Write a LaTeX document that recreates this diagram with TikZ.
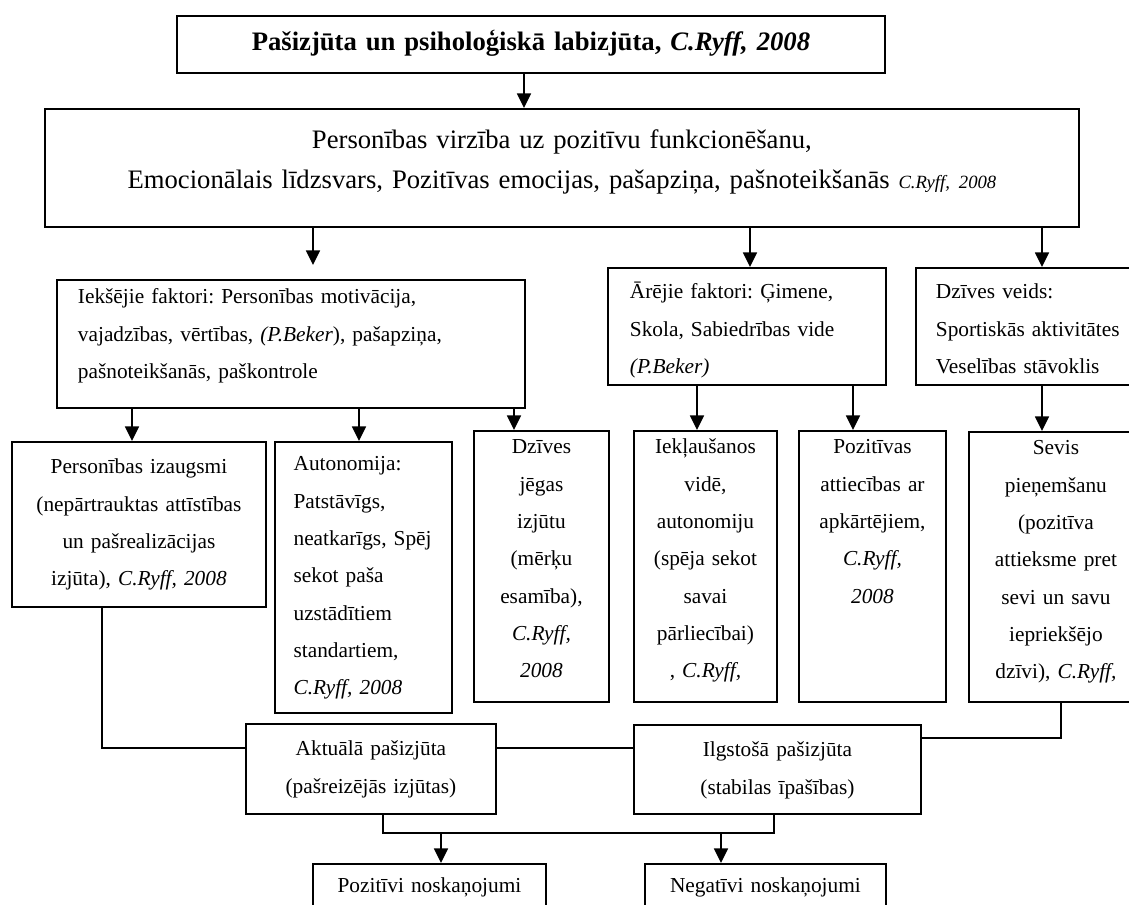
\documentclass[tikz,border=0pt]{standalone}
\usepackage{fontspec}
\setmainfont{Liberation Serif}
\usetikzlibrary{arrows.meta}
\frenchspacing

\begin{document}
\begin{tikzpicture}[x=0.75pt,y=-0.75pt,
    cell/.style={draw, line width=1.4pt, anchor=north west, inner ysep=0pt, align=center, font=\fontsize{16}{28}\selectfont},
    arr/.style={-{Triangle[length=11pt,width=10.5pt]}, line width=1.2pt},
    link/.style={line width=1.2pt}]
    \useasboundingbox (0,0) rectangle (1129,905);
    \clip (0,0) rectangle (1129,905);

    \node[cell, text width=531pt, inner xsep=0pt, text height=26.25pt, text depth=16.5pt, font=\fontsize{20}{24}\selectfont\bfseries] (title) at (176,15) {Pašizjūta un psiholoģiskā labizjūta, \textit{C.Ryff, 2008}};
    \node[cell, text width=775.5pt, inner xsep=0pt, text height=30pt, text depth=58.5pt, font=\fontsize{20}{30}\selectfont] (big) at (44,108) {Personības virzība uz pozitīvu funkcionēšanu,\\ Emocionālais līdzsvars, Pozitīvas emocijas, pašapziņa, pašnoteikšanās {\fontsize{14}{16}\selectfont\itshape C.Ryff, 2008}};

    \node[cell, align=left, text width=319.5pt, inner xsep=15.75pt, text height=18pt, text depth=78pt] (inner) at (56,279) {Iekšējie faktori: Personības motivācija,\\ vajadzības, vērtības, \textit{(P.Beker}), pašapziņa,\\ pašnoteikšanās, paškontrole};
    \node[cell, align=left, text width=175.5pt, inner xsep=16.5pt, text height=23.25pt, text depth=64.5pt] (outer) at (607,267) {Ārējie faktori: Ģimene,\\ Skola, Sabiedrības vide\\ \textit{(P.Beker)}};
    \node[cell, align=left, text width=141pt, inner xsep=15pt, text height=23.25pt, text depth=64.5pt] (life) at (915,267) {Dzīves veids:\\ Sportiskās aktivitātes\\ Veselības stāvoklis};

    \node[cell, text width=178.5pt, inner xsep=6pt, text height=24pt, text depth=99.75pt] (growth) at (11,441) {Personības izaugsmi\\ (nepārtrauktas attīstības\\ un pašrealizācijas\\ izjūta), \textit{C.Ryff, 2008}};
    \node[cell, align=left, text width=104.75pt, inner xsep=14pt, text height=21.75pt, text depth=181.5pt] (auton) at (274,441) {Autonomija:\\ Patstāvīgs,\\ neatkarīgs, Spēj\\ sekot paša\\ uzstādītiem\\ standartiem,\\ \textit{C.Ryff, 2008}};
    \node[cell, text width=95.25pt, inner xsep=3pt, text height=17.25pt, text depth=186pt] (meaning) at (473,430) {Dzīves\\ jēgas\\ izjūtu\\ (mērķu\\ esamība),\\ \textit{C.Ryff,}\\ \textit{2008}};
    \node[cell, text width=101.25pt, inner xsep=3pt, text height=17.25pt, text depth=186pt] (inclusion) at (633,430) {Iekļaušanos\\ vidē,\\ autonomiju\\ (spēja sekot\\ savai\\ pārliecībai)\\ , \textit{C.Ryff,}};
    \node[cell, text width=104.25pt, inner xsep=3pt, text height=17.25pt, text depth=186pt] (relations) at (798,430) {Pozitīvas\\ attiecības ar\\ apkārtējiem,\\ \textit{C.Ryff,}\\ \textit{2008}};
    \node[cell, text width=124.5pt, inner xsep=3pt, text height=17.25pt, text depth=185.25pt] (accept) at (968,431) {Sevis\\ pieņemšanu\\ (pozitīva\\ attieksme pret\\ sevi un savu\\ iepriekšējo\\ dzīvi), \textit{C.Ryff,}};

    \node[cell, text width=181.5pt, inner xsep=3pt, text height=24pt, text depth=43.5pt] (actual) at (245,723) {Aktuālā pašizjūta\\ (pašreizējās izjūtas)};
    \node[cell, text width=209.25pt, inner xsep=3pt, text height=24pt, text depth=42.75pt] (lasting) at (633,724) {Ilgstošā pašizjūta\\ (stabilas īpašības)};
    \node[cell, text width=168.75pt, inner xsep=3pt, text height=21.75pt, text depth=30pt] (pos) at (312,863) {Pozitīvi noskaņojumi};
    \node[cell, text width=174.75pt, inner xsep=3pt, text height=21.75pt, text depth=30pt] (neg) at (644,863) {Negatīvi noskaņojumi};

    \draw[arr] (title.south -| 524,0) -- (big.north -| 524,0);
    \draw[arr] (big.south -| 313,0) -- (313,265);
    \draw[arr] (big.south -| 750,0) -- (outer.north -| 750,0);
    \draw[arr] (big.south -| 1042,0) -- (life.north -| 1042,0);

    \draw[arr] (inner.south -| 132,0) -- (growth.north -| 132,0);
    \draw[arr] (inner.south -| 359,0) -- (auton.north -| 359,0);
    \draw[arr] (inner.south -| 514,0) -- (meaning.north -| 514,0);
    \draw[arr] (outer.south -| 697,0) -- (inclusion.north -| 697,0);
    \draw[arr] (outer.south -| 853,0) -- (relations.north -| 853,0);
    \draw[arr] (life.south -| 1042,0) -- (accept.north -| 1042,0);

    \draw[link] (growth.south -| 102,0) |- (actual.west |- 0,748);
    \draw[link] (actual.east |- 0,748) -- (lasting.west |- 0,748);
    \draw[link] (accept.south -| 1061,0) |- (lasting.east |- 0,738);
    \draw[link] (actual.south -| 383,0) |- (774,833) -- (lasting.south -| 774,0);
    \draw[arr] (441,833) -- (pos.north -| 441,0);
    \draw[arr] (721,833) -- (neg.north -| 721,0);
\end{tikzpicture}
\end{document}
